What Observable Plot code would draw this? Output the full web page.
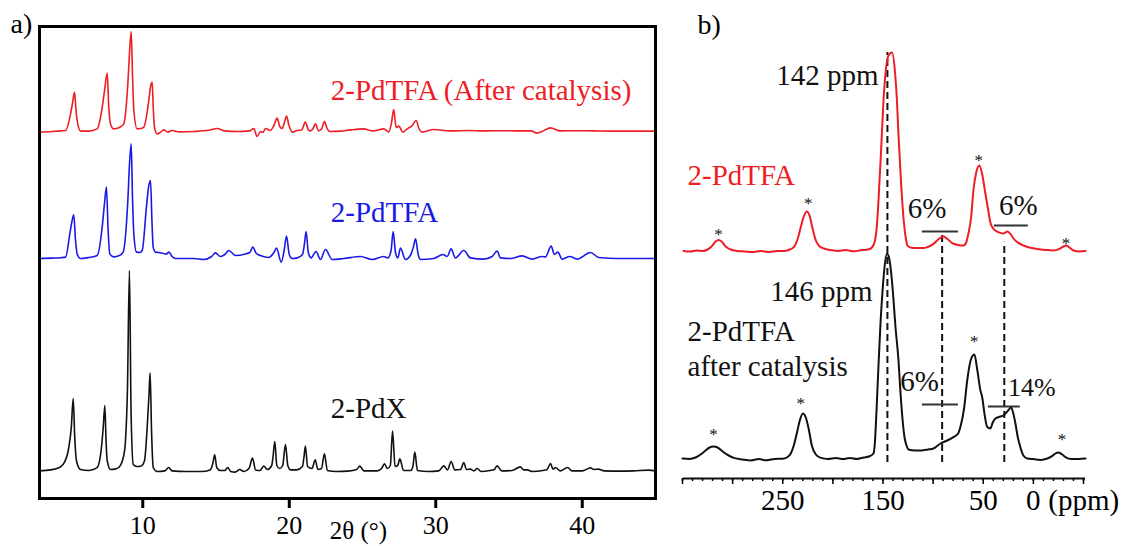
<!DOCTYPE html>
<html><head><meta charset="utf-8">
<script src="https://cdn.jsdelivr.net/npm/d3@7"></script>
<script src="https://cdn.jsdelivr.net/npm/@observablehq/plot@0.6"></script>
<style>
body{margin:0;background:#fff;}
#wrap{position:relative;width:1121px;height:546px;overflow:hidden;background:#fff;}
#a{position:absolute;left:0;top:0;}
#b{position:absolute;left:660px;top:0;}
svg{font-family:"Liberation Serif","Times New Roman",serif;overflow:visible;}
</style></head><body><div id="wrap"><div id="a"></div><div id="b"></div></div>
<script>
// ---------- Panel a: PXRD (2θ in degrees, relative intensity) ----------
const xrdRed = [[2.95,-0.3],[3.8,0],[4.4,0.3],[4.73,0.5],[5.07,8.8],[5.2,14],[5.34,19.7],[5.45,10],[5.56,3.8],[5.75,0.3],[6.3,0.2],[6.89,1.3],[7.23,12],[7.4,21],[7.57,29.2],[7.68,12],[7.8,3.8],[8.02,1.3],[8.4,2],[8.7,3.8],[8.98,23.8],[9.1,40],[9.21,50],[9.3,28],[9.39,10.5],[9.62,1.3],[9.85,1.5],[10.07,2.2],[10.41,15.5],[10.52,22],[10.64,24.7],[10.72,11],[10.8,2.2],[10.98,-1.2],[11.2,-0.5],[11.43,0.8],[11.7,-0.3],[12.0,0.5],[12.5,-0.2],[13.5,0],[14.5,0.6],[15.08,1.5],[15.6,0.3],[16.5,0],[17.3,0.3],[17.58,1.5],[17.8,-2.5],[18.05,0],[18.2,-0.5],[18.38,1.5],[18.7,0.5],[18.95,3],[19.17,6.7],[19.35,2.5],[19.5,1.5],[19.65,4],[19.81,7.7],[19.98,3],[20.2,-0.3],[20.54,0.5],[20.85,0.8],[21.1,4.7],[21.3,0.8],[21.45,0.3],[21.62,1.5],[21.79,3.8],[22.0,0.3],[22.2,1.2],[22.4,5],[22.6,1.2],[22.8,0],[23.5,0.2],[24.18,0.8],[25.09,1.3],[25.7,0.3],[26.45,1.3],[26.79,-0.2],[26.97,4],[27.13,11],[27.3,2],[27.48,2.7],[27.75,-0.3],[28.05,1.3],[28.4,3],[28.66,5.5],[28.85,1.5],[29.07,-0.3],[29.86,1],[31.0,0.3],[32.2,0.5],[33.3,0.3],[34.5,0.4],[35.55,0.3],[36.5,0.3],[36.92,-0.8],[37.26,0],[37.83,1.8],[38.51,0.3],[39.5,0.4],[40.8,0.3],[42,0.2],[43.5,0.2],[45,0.2]];
const xrdBlue = [[2.95,0],[3.8,0.2],[4.4,0.4],[4.73,0.7],[5.02,12.3],[5.15,18],[5.29,21.8],[5.4,10],[5.52,2.3],[5.75,0],[6.3,0.5],[6.89,1.5],[7.23,15.7],[7.38,27],[7.52,35.7],[7.63,15],[7.75,2.3],[8.02,0.8],[8.4,1.5],[8.66,3.2],[8.98,29],[9.1,48],[9.21,57.3],[9.3,30],[9.39,12.3],[9.57,3.2],[9.8,3],[9.96,4],[10.25,25.7],[10.4,36],[10.53,39],[10.62,20],[10.71,5.7],[10.87,3.2],[11.1,3],[11.4,2.5],[11.6,2.2],[11.78,3.2],[12.0,1],[12.23,0],[13.48,0],[14.16,-0.5],[14.7,1],[14.96,2.8],[15.3,1],[15.6,2],[15.87,4],[16.33,1.5],[17.01,2.3],[17.3,3],[17.51,5.7],[17.75,2.5],[18.03,1.5],[18.6,0.5],[18.95,3],[19.13,5.2],[19.45,-1.8],[19.65,4],[19.81,11.2],[20.0,2],[20.2,0],[20.54,0.3],[20.9,2],[21.03,7],[21.15,13.5],[21.3,3],[21.49,0.3],[21.83,3.5],[22.13,-0.5],[22.47,4.5],[22.93,-0.5],[23.72,0],[24.86,1],[25.66,-0.5],[26.45,1],[26.73,0.3],[26.95,4],[27.09,13.5],[27.25,3],[27.41,0.3],[27.59,5.2],[27.93,-0.5],[28.3,2],[28.48,6],[28.62,9.8],[28.8,2],[28.96,-0.5],[29.86,0],[30.5,2],[30.78,1],[31.05,4.8],[31.34,0.3],[31.91,4],[32.37,0.3],[33.28,-0.3],[33.85,1],[34.19,3.7],[34.42,0.3],[35.1,0],[35.9,1.3],[36.58,-0.3],[37.26,1],[37.49,0.8],[37.88,6.2],[38.1,2],[38.33,3.2],[38.63,-0.3],[39.15,1],[39.65,-0.3],[40.56,3],[41.13,0.5],[42.38,0],[44.88,0],[45,0]];
const xrdBlack = [[2.95,0.3],[3.7,0.8],[4.3,2],[4.6,3.9],[4.95,12],[5.12,22],[5.25,36.5],[5.35,18],[5.47,5.5],[5.75,1],[6.3,0.5],[6.6,1],[6.89,2],[7.18,12],[7.3,22],[7.41,33],[7.49,16],[7.57,5.5],[7.8,1],[8.1,1.2],[8.36,2],[8.7,8],[8.82,15.5],[8.95,40],[9.09,100.5],[9.2,30],[9.35,3.5],[9.6,2.5],[9.9,2.8],[10.12,5.5],[10.3,22],[10.42,38],[10.5,49.3],[10.6,20],[10.71,2],[10.98,0],[11.5,0.3],[11.77,2],[12.0,0.3],[13.0,0],[14.0,0],[14.6,0.8],[14.78,4],[14.91,8.3],[15.05,2],[15.3,0.5],[15.6,0.5],[15.8,2],[16.0,0],[16.3,-0.3],[16.62,1],[16.9,0],[17.25,1.5],[17.49,6.7],[17.7,0.8],[18.0,0.5],[18.26,2.7],[18.5,1],[18.8,3],[18.9,8],[19.01,15],[19.15,3],[19.35,1.5],[19.55,3],[19.74,13.5],[19.9,3],[20.1,0.8],[20.5,0.8],[20.9,2.5],[21.0,7],[21.1,12.7],[21.25,2.5],[21.55,1.5],[21.77,5.8],[21.95,1],[22.2,1.5],[22.4,8.8],[22.6,0.5],[23.2,0],[24.0,0.2],[24.6,1],[24.81,2.7],[25.1,0.3],[26.0,0.3],[26.3,1.5],[26.5,3.8],[26.7,1.5],[26.9,3],[27.05,20.2],[27.22,2.5],[27.4,3],[27.55,6.3],[27.8,0.5],[28.3,0.5],[28.45,3],[28.57,9.7],[28.75,0.5],[29.5,0],[30.2,0.3],[30.55,2.8],[30.8,0.8],[31.05,5],[31.3,0.8],[31.7,1],[31.91,4.5],[32.1,1],[32.37,1.2],[32.6,0.3],[32.83,1.5],[33.1,0],[33.7,0.5],[34.0,1],[34.19,2.8],[34.5,0.3],[35.2,0.5],[35.78,2.3],[36.0,0.8],[36.24,0.8],[36.6,0],[37.3,0.5],[37.6,1],[37.83,4],[38.0,1.2],[38.17,2],[38.5,0.3],[39.0,2],[39.3,0.3],[40.0,0.3],[40.56,1.8],[40.8,1],[41.1,1.2],[41.5,0.3],[42.5,0.2],[43.5,0.3],[44.5,0.7],[45,0.3]];
const xrdOffsets = {red: 170, blue: 106.5, black: 0};
const xrdTicks = [10, 20, 30, 40];
const xrdLabels = [
  {text: "2-PdTFA (After catalysis)", x: 22.83, y: 190.5, series: "red"},
  {text: "2-PdTFA", x: 22.83, y: 129.6, series: "blue"},
  {text: "2-PdX", x: 22.83, y: 31.2, series: "black"}
];

// ---------- Panel b: 13C NMR (ppm, relative intensity) ----------
const nmrRed = [[349,0.8],[342,0.5],[336,1],[330,0.8],[325,1.5],[321,3],[317,5.5],[314,6.3],[311,5.5],[307,3],[302,1.5],[296,0.8],[288,0.5],[280,0.2],[272,0.8],[264,0.3],[256,0.7],[248,0.8],[243,1.5],[239,2.7],[235,7],[232,12.7],[229,18],[226,20.5],[223,18],[220.6,12.7],[217,6],[213,3],[209,2],[203,1.2],[195,0.8],[187,1.2],[179,0.6],[171,1.2],[165,1.5],[161,2.5],[158,6],[156,14],[154.5,26],[152,50],[149.5,76],[147,92],[144,99],[141,100],[138,90],[136,75],[134.6,59.5],[132,35],[129.6,17.5],[127.5,8],[125.6,3.5],[122.6,2.5],[116,2.2],[110,2.2],[105.7,2.7],[99.7,4.3],[95,6.5],[90,8],[85,6.5],[81,4.7],[75,3.8],[69.8,3.5],[67,5],[64.8,9.5],[62,18],[59.8,31],[57,40],[53.8,43.5],[51,39],[47.9,29.5],[45,21],[42.9,15],[40,12],[37.9,11],[33,9.8],[29.9,9.5],[25.9,10.5],[22.5,9],[19.9,7],[15,4.8],[10,3.5],[4,2.5],[-3.7,1.8],[-12,1.3],[-20,1],[-26,1.8],[-30,3],[-32.6,3.5],[-36,2.5],[-40,1],[-46,0.5],[-52,0.7]];
const nmrBlack = [[350,0.5],[343,0.3],[337,1],[332,2.5],[327,4.5],[323,6],[319,6.5],[315,6],[310,4],[304,2],[298,0.7],[290,0],[282,-0.5],[274,0.2],[266,-0.4],[258,0.3],[250,0.4],[246,1],[242,3],[239,7],[236,13],[233,19.5],[230,23],[227,21],[224,15],[221,7],[217,2.5],[212,0.8],[205,0.3],[197,0.8],[190,0.2],[183,0.8],[176,0.3],[169,1],[164,1.5],[159.5,3],[158,9],[156.5,24],[154.5,47],[152.5,68],[150.5,84],[148.5,96],[146,103],[144,101],[142,94],[140,83],[137.5,66],[134.6,50],[132.5,33],[130.5,20],[128.5,11],[126.5,7],[124.6,5],[118,4.5],[112,4.5],[105,5],[99.7,5.5],[92.7,8],[86,9.5],[79.8,11.2],[75,13],[72.8,16.2],[69,26],[66,39.5],[62,50.5],[58.8,52.5],[56,45],[53,35],[51,31],[48.5,22],[46,16.2],[43,15.5],[40.5,18.5],[37.9,20.5],[33,21.5],[29.9,22],[26,24],[22.2,26],[20,23],[17.9,18],[15.5,11],[13,6.2],[10,2],[6,0.5],[0,0.2],[-7,-0.2],[-14,0.5],[-19,1.8],[-22,3],[-25,3.5],[-28,2.8],[-32,1.2],[-38,0.2],[-45,0.3],[-52,0.5]];
const nmrOffsets = {red: 103.5, black: 0};
const nmrMinorTicks = d3.range(-50, 351, 10);
const nmrMajorTicks = d3.range(-50, 351, 50);
const nmrTickLabels = [250, 150, 50, 0];
const asterisksRed = [[314, 114.5], [224.6, 130], [54.6, 151.6], [-32.6, 109.8]];
const asterisksBlack = [[319, 14.5], [232, 29.8], [59, 60.8], [-28.6, 12]];
const dashLines = [{x: 145.6, y1: -1.5, y2: 203.5}, {x: 91, y1: -1.5, y2: 113}, {x: 29, y1: -1.5, y2: 108.6}];
const integralBars = [{x1: 110.7, x2: 74.8, y: 114}, {x1: 38.9, x2: 5, y: 117}, {x1: 110.7, x2: 74.8, y: 27.5}, {x1: 44.9, x2: 13, y: 26.5}];
const nmrLabels = [
  {text: "142 ppm", x: 154.5, y: 192, anchor: "end", color: "black", size: 29},
  {text: "146 ppm", x: 160.5, y: 84, anchor: "end", color: "black", size: 29},
  {text: "2-PdTFA", x: 345, y: 142, anchor: "start", color: "red", size: 29},
  {text: "2-PdTFA", x: 345, y: 64, anchor: "start", color: "black", size: 29},
  {text: "after catalysis", x: 345, y: 46.5, anchor: "start", color: "black", size: 29},
  {text: "6%", x: 106, y: 125.5, anchor: "middle", color: "black", size: 29},
  {text: "6%", x: 15, y: 127, anchor: "middle", color: "black", size: 29},
  {text: "6%", x: 113.6, y: 39, anchor: "middle", color: "black", size: 29},
  {text: "14%", x: 1.5, y: 35.7, anchor: "middle", color: "black", size: 26}
];

const colors = {red: "#ee1d25", blue: "#1a1ae6", black: "#111111"};
const font = "Liberation Serif, Times New Roman, serif";

const plotA = Plot.plot({
  width: 660, height: 546,
  marginLeft: 39, marginRight: 5, marginTop: 26, marginBottom: 48,
  x: {domain: [2.95, 45], label: null},
  y: {domain: [-13.5, 222.5], axis: null},
  style: {fontFamily: font, background: "#fff", color: "#000"},
  marks: [
    Plot.line(xrdRed, {x: d => d[0], y: d => d[1] + xrdOffsets.red, stroke: colors.red, strokeWidth: 1.6, curve: "monotone-x"}),
    Plot.line(xrdBlue, {x: d => d[0], y: d => d[1] + xrdOffsets.blue, stroke: colors.blue, strokeWidth: 1.6, curve: "monotone-x"}),
    Plot.line(xrdBlack, {x: d => d[0], y: d => d[1] + xrdOffsets.black, stroke: colors.black, strokeWidth: 1.6, curve: "monotone-x"}),
    Plot.frame({stroke: "#000", strokeWidth: 3}),
    Plot.axisX({ticks: xrdTicks, tickSize: 10, tickPadding: 7, strokeWidth: 3, fontSize: 26, fontFamily: font, fill: "#000", label: null}),
    Plot.text(xrdLabels, {x: "x", y: "y", text: "text", fill: d => colors[d.series], fontSize: 29, fontFamily: font, textAnchor: "start", lineAnchor: "middle"}),
    Plot.text(["2θ (°)"], {x: 24.72, frameAnchor: "bottom", dy: 32, fontSize: 25, fontFamily: font, textAnchor: "middle", lineAnchor: "middle", fill: "#000"}),
    Plot.text(["a)"], {frameAnchor: "top-left", dx: -29, dy: -2, fontSize: 28, fontFamily: font, textAnchor: "start", lineAnchor: "middle", fill: "#000"})
  ]
});
document.getElementById("a").append(plotA);

const labelMark = (anchor) => Plot.text(nmrLabels, {
  filter: d => d.anchor === anchor, x: "x", y: "y", text: "text", textAnchor: anchor,
  fill: d => colors[d.color], fontSize: d => d.size, fontFamily: font, lineAnchor: "middle"
});

const plotB = Plot.plot({
  width: 461, height: 546,
  marginLeft: 23, marginRight: 36, marginTop: 0, marginBottom: 68,
  x: {domain: [349, -52], label: null},
  y: {domain: [-9.5, 229.5], axis: null},
  style: {fontFamily: font, background: "#fff", color: "#000"},
  marks: [
    Plot.ruleX(dashLines, {x: "x", y1: "y1", y2: "y2", stroke: "#111", strokeWidth: 2, strokeDasharray: "7,4"}),
    Plot.ruleY(integralBars, {x1: "x1", x2: "x2", y: "y", stroke: "#333", strokeWidth: 2}),
    Plot.line(nmrRed, {x: d => d[0], y: d => d[1] + nmrOffsets.red, stroke: colors.red, strokeWidth: 2, curve: "monotone-x"}),
    Plot.line(nmrBlack, {x: d => d[0], y: d => d[1] + nmrOffsets.black, stroke: colors.black, strokeWidth: 2, curve: "monotone-x"}),
    Plot.text(asterisksRed, {x: d => d[0], y: d => d[1], text: () => "*", fontSize: 17, dy: 4, fill: "#111", fontFamily: font}),
    Plot.text(asterisksBlack, {x: d => d[0], y: d => d[1], text: () => "*", fontSize: 17, dy: 4, fill: "#111", fontFamily: font}),
    labelMark("start"),
    labelMark("end"),
    labelMark("middle"),
    Plot.ruleY([-9.5], {stroke: "#111", strokeWidth: 2}),
    Plot.axisX({ticks: nmrMinorTicks, tickSize: 3, tickFormat: () => "", strokeWidth: 1.5, label: null}),
    Plot.axisX({ticks: nmrMajorTicks, tickSize: 6, tickFormat: () => "", strokeWidth: 1.5, label: null}),
    Plot.axisX({ticks: nmrTickLabels, tickSize: 0, tickPadding: 11, fontSize: 29, fontFamily: font, fill: "#000", label: null}),
    Plot.text(["(ppm)"], {x: 0, frameAnchor: "bottom", dx: 15, dy: 22, fontSize: 29, fontFamily: font, textAnchor: "start", lineAnchor: "middle", fill: "#000"}),
    Plot.text(["b)"], {frameAnchor: "top-left", dx: 14, dy: 25, fontSize: 28, fontFamily: font, textAnchor: "start", lineAnchor: "middle", fill: "#000"})
  ]
});
document.getElementById("b").append(plotB);
</script></body></html>
